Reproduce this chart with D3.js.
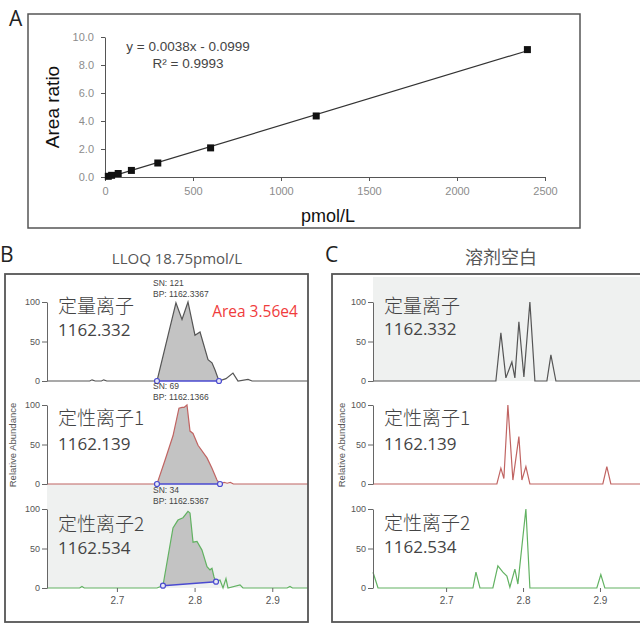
<!DOCTYPE html>
<html>
<head>
<meta charset="utf-8">
<script src="https://cdn.jsdelivr.net/npm/d3@7"></script>
<style>
  body { margin: 0; background: #fff; }
  svg { display: block; }
</style>
</head>
<body>
<script>
// ---- panel A : calibration curve ----
var calConc  = [18.75, 37.5, 75, 150, 300, 600, 1200, 2400];
var calRatio = [0.05, 0.12, 0.25, 0.47, 1.0, 2.08, 4.36, 9.1];
var fitSlope = 0.0038;
var fitIntercept = -0.0999;
var calXTicks = [0, 500, 1000, 1500, 2000, 2500];
var calYTicks = [0, 2, 4, 6, 8, 10];

// ---- chromatograms ----
var ionNames = ["定量离子", "定性离子1", "定性离子2"];
var ionMz = ["1162.332", "1162.139", "1162.534"];
var bSN = ["SN: 121", "SN: 69", "SN: 34"];
var bBP = ["BP: 1162.3367", "BP: 1162.1366", "BP: 1162.5367"];
var rtTicks = [2.7, 2.8, 2.9];
var abundTicks = [0, 50, 100];

// B (LLOQ 18.75 pmol/L)
var bQuantT = [2.61, 2.665, 2.668, 2.672, 2.68, 2.683, 2.687, 2.7516, 2.776, 2.7838, 2.7915, 2.8005, 2.807, 2.8173, 2.8224, 2.8263, 2.8314, 2.8404, 2.8494, 2.8559, 2.8688, 2.874, 2.946];
var bQuantI = [0, 0, 1.5, 0, 0, 1.5, 0, 0, 99, 78, 100, 58, 62, 27, 23, 14, 0, 3, 10, 0, 2, 0, 0];
var bQual1T = [2.61, 2.7516, 2.7619, 2.7722, 2.7799, 2.7838, 2.7864, 2.7902, 2.7941, 2.798, 2.8044, 2.816, 2.8224, 2.8288, 2.8327, 2.838, 2.842, 2.846, 2.85, 2.946];
var bQual1I = [0, 0, 30, 61, 96, 97, 97, 100, 67, 64, 49, 33, 20, 5, 0, 2, 1, 2, 0, 0];
var bQual2T = [2.61, 2.652, 2.655, 2.658, 2.7516, 2.7593, 2.7722, 2.7786, 2.7851, 2.7915, 2.7941, 2.798, 2.8031, 2.8095, 2.816, 2.8198, 2.8224, 2.825, 2.8276, 2.8327, 2.8366, 2.8404, 2.843, 2.8585, 2.8623, 2.919, 2.9228, 2.926, 2.946];
var bQual2I = [0, 0, 2, 0, 0, 3, 76, 86, 89, 97, 95, 58, 59, 48, 27, 23, 25, 14, 8, 10, 0, 12, 0, 4, 0, 0, 2, 0, 0];
// integration start / end and baseline level
var bPeakStart = [2.7516, 2.7516, 2.7593];
var bPeakEnd   = [2.8314, 2.8327, 2.8276];
var bBaseStart = [0, 0, 3];
var bBaseEnd   = [0, 0, 8];

// C (solvent blank)
var cQuantT = [2.605, 2.7647, 2.7712, 2.7777, 2.7855, 2.7894, 2.7946, 2.8011, 2.8089, 2.8154, 2.831, 2.8362, 2.8427, 2.978];
var cQuantI = [0, 0, 61, 4, 24, 4, 75, 5, 100, 0, 0, 33, 0, 0];
var cQual1T = [2.605, 2.766, 2.7712, 2.7751, 2.7803, 2.7868, 2.7946, 2.7985, 2.8037, 2.8089, 2.9037, 2.9089, 2.9141, 2.978];
var cQual1I = [0, 0, 20, 7, 100, 5, 60, 5, 22, 0, 0, 22, 0, 0];
var cQual2T = [2.605, 2.6115, 2.7349, 2.7388, 2.744, 2.7608, 2.7673, 2.7738, 2.779, 2.7829, 2.7894, 2.7933, 2.8037, 2.8089, 2.8959, 2.9011, 2.9063, 2.978];
var cQual2I = [20, 0, 0, 20, 0, 0, 28, 20, 15, 1, 24, 5, 100, 0, 0, 17, 0, 0];

var traceColors = ["#555555", "#c06462", "#62b262"];
var rowBase = [381, 484, 588];
var rowTop = [302, 405, 509];

var svg = d3.select("body").append("svg")
    .attr("width", 640)
    .attr("height", 626)
    .style("font-family", "'Liberation Sans', Arial, sans-serif");

// ================= A =================
var ax = d3.scaleLinear().domain([0, 2500]).range([105, 545]);
var ay = d3.scaleLinear().domain([0, 10]).range([177, 37]);

svg.append("rect")
    .attr("x", 28).attr("y", 14)
    .attr("width", 552).attr("height", 214)
    .attr("fill", "none").attr("stroke", "#555").attr("stroke-width", 1.5);

svg.append("text").attr("x", 9).attr("y", 26)
    .style("font-family", "'Open Sans', sans-serif").style("font-size", "21px")
    .attr("fill", "#222").text("A");

var gAx = svg.append("g").attr("transform", "translate(0,177)")
    .call(d3.axisBottom(ax).tickValues(calXTicks).tickFormat(d3.format("d")).tickSize(4).tickPadding(6).tickSizeOuter(0));
var gAy = svg.append("g").attr("transform", "translate(105,0)")
    .call(d3.axisLeft(ay).tickValues(calYTicks).tickFormat(d3.format(".1f")).tickSize(4).tickPadding(7).tickSizeOuter(0));
[gAx, gAy].forEach(function(g)
{
    g.selectAll("path, line").attr("stroke", "#555");
    g.selectAll("text").attr("fill", "#8c8c8c")
     .style("font-size", "11px").style("font-family", "'Liberation Sans', Arial, sans-serif");
});

var fitX = [calConc[0], calConc[calConc.length - 1]];
svg.append("line")
    .attr("x1", ax(fitX[0])).attr("y1", ay(fitSlope * fitX[0] + fitIntercept))
    .attr("x2", ax(fitX[1])).attr("y2", ay(fitSlope * fitX[1] + fitIntercept))
    .attr("stroke", "#333").attr("stroke-width", 1.2);

svg.selectAll(".calpt")
    .data(calConc)
    .enter().append("rect")
    .attr("class", "calpt")
    .attr("x", function(d) { return ax(d) - 3.5; })
    .attr("y", function(d, i) { return ay(calRatio[i]) - 3.5; })
    .attr("width", 7).attr("height", 7)
    .attr("fill", "#111");

svg.append("text").attr("x", 188).attr("y", 51).attr("text-anchor", "middle")
    .style("font-size", "13.5px").attr("fill", "#444")
    .text("y = " + fitSlope + "x - " + Math.abs(fitIntercept));
svg.append("text").attr("x", 188).attr("y", 68).attr("text-anchor", "middle")
    .style("font-size", "13.5px").attr("fill", "#444")
    .text("R² = 0.9993");

svg.append("text")
    .attr("transform", "translate(59,107) rotate(-90)")
    .attr("text-anchor", "middle")
    .style("font-size", "19px").attr("fill", "#111")
    .text("Area ratio");
svg.append("text").attr("x", 328).attr("y", 222).attr("text-anchor", "middle")
    .style("font-size", "18px").attr("fill", "#111")
    .text("pmol/L");

// ================= B / C =================
function drawPanel(opt)
{
    var g = svg.append("g");
    var x = d3.scaleLinear().domain(opt.domain).range([opt.axisX, opt.rightX]);

    // highlighted row background
    g.append("rect")
        .attr("x", opt.axisX).attr("y", rowTop[opt.hiRow] - 25)
        .attr("width", opt.frameRight - opt.axisX)
        .attr("height", rowBase[opt.hiRow] - rowTop[opt.hiRow] + 25)
        .attr("fill", "#eff1f0");

    for (var r = 0; r < 3; r++)
    {
        var y = d3.scaleLinear().domain([0, 100]).range([rowBase[r], rowTop[r]]);
        var times = opt.times[r], vals = opt.vals[r];
        var pts = times.map(function(t, i) { return [t, vals[i]]; });

        if (opt.peaks)
        {
            var s = opt.peaks.start[r], e = opt.peaks.end[r];
            var b0 = opt.peaks.base0[r], b1 = opt.peaks.base1[r];
            var inPeak = pts.filter(function(p) { return p[0] >= s - 1e-6 && p[0] <= e + 1e-6; });
            var baseAt = function(t) { return b0 + (b1 - b0) * (t - s) / (e - s); };
            g.append("path")
                .datum(inPeak)
                .attr("d", d3.area()
                    .x(function(p) { return x(p[0]); })
                    .y0(function(p) { return y(baseAt(p[0])); })
                    .y1(function(p) { return y(p[1]); }))
                .attr("fill", "#c3c3c3");
        }

        g.append("path")
            .datum(pts)
            .attr("d", d3.line().x(function(p) { return x(p[0]); }).y(function(p) { return y(p[1]); }))
            .attr("fill", "none")
            .attr("stroke", traceColors[r])
            .attr("stroke-width", 1.2);

        if (opt.peaks)
        {
            var pk = opt.peaks;
            g.append("line")
                .attr("x1", x(pk.start[r])).attr("y1", y(pk.base0[r]))
                .attr("x2", x(pk.end[r])).attr("y2", y(pk.base1[r]))
                .attr("stroke", "#4a4ad0").attr("stroke-width", 1.5);
            g.selectAll(".ep" + r)
                .data([[pk.start[r], pk.base0[r]], [pk.end[r], pk.base1[r]]])
                .enter().append("circle")
                .attr("cx", function(d) { return x(d[0]); })
                .attr("cy", function(d) { return y(d[1]); })
                .attr("r", 2.5)
                .attr("fill", "#e8e8f4").attr("stroke", "#4a4ad0").attr("stroke-width", 1.2);

            g.append("text").attr("x", opt.snX).attr("y", rowTop[r] - 16)
                .style("font-size", "8.5px").attr("fill", "#444").text(opt.sn[r]);
            g.append("text").attr("x", opt.snX).attr("y", rowTop[r] - 5)
                .style("font-size", "8.5px").attr("fill", "#444").text(opt.bp[r]);
        }

        // y axis
        var ga = g.append("g").attr("transform", "translate(" + opt.axisX + ",0)");
        ga.call(d3.axisLeft(y).tickValues(d3.range(0, 101, 10)).tickSize(3).tickFormat("").tickSizeOuter(0));
        ga.call(d3.axisLeft(y).tickValues(abundTicks).tickSize(5).tickPadding(2).tickSizeOuter(0));
        ga.selectAll("path, line").attr("stroke", "#666");
        ga.selectAll("text").attr("fill", "#555")
          .style("font-size", "9px").style("font-family", "'Liberation Sans', Arial, sans-serif");

        g.append("text").attr("x", opt.axisX + 11).attr("y", opt.nameY[r] + 7)
            .style("font-family", "'Noto Sans CJK SC', sans-serif").style("font-size", "19px")
            .style("font-weight", 300).attr("fill", "#444").text(ionNames[r]);
        g.append("text").attr("x", opt.axisX + 11).attr("y", opt.mzY[r] + 6)
            .style("font-family", "'Open Sans', sans-serif").style("font-size", "17px")
            .attr("fill", "#444").text(ionMz[r]);

        if (r == 2)
        {
            var gx = g.append("g").attr("transform", "translate(0," + rowBase[r] + ")");
            gx.call(d3.axisBottom(x).tickValues(d3.range(2.61, opt.domain[1], 0.01)).tickSize(2).tickFormat(""));
            gx.call(d3.axisBottom(x).tickValues(rtTicks).tickSize(4).tickPadding(5).tickFormat(d3.format(".1f")));
            gx.select(".domain").remove();
            gx.selectAll("line").attr("stroke", "#666");
            gx.selectAll("text").attr("fill", "#555")
              .style("font-size", "10px").style("font-family", "'Liberation Sans', Arial, sans-serif");
        }
    }

    svg.append("text")
        .attr("transform", "translate(" + opt.relX + ",445) rotate(-90)")
        .attr("text-anchor", "middle")
        .style("font-size", "9.5px").attr("fill", "#555")
        .text("Relative Abundance");

    svg.append("rect")
        .attr("x", opt.frameLeft).attr("y", 274)
        .attr("width", opt.frameRight - opt.frameLeft).attr("height", 348)
        .attr("fill", "none").attr("stroke", "#555").attr("stroke-width", 1.8);

    svg.append("text").attr("x", opt.letterX).attr("y", 262)
        .style("font-family", "'Open Sans', sans-serif").style("font-size", "21px")
        .attr("fill", "#222").text(opt.letter);
    svg.append("text").attr("x", opt.titleX).attr("y", 264).attr("text-anchor", "middle")
        .style("font-family", opt.titleFont).style("font-size", opt.titleSize)
        .attr("fill", "#555").text(opt.title);
    return x;
}

drawPanel({
    domain: [2.61, 2.946], axisX: 47, rightX: 308, frameLeft: 5, frameRight: 308,
    times: [bQuantT, bQual1T, bQual2T], vals: [bQuantI, bQual1I, bQual2I],
    peaks: { start: bPeakStart, end: bPeakEnd, base0: bBaseStart, base1: bBaseEnd },
    sn: bSN, bp: bBP, snX: 153, hiRow: 2,
    nameY: [306, 418, 524], mzY: [330, 444, 548],
    relX: 16, letter: "B", letterX: 0,
    title: "LLOQ 18.75pmol/L", titleX: 177, titleFont: "'Open Sans', sans-serif", titleSize: "15px"
});

svg.append("text").attr("x", 255).attr("y", 317).attr("text-anchor", "middle")
    .style("font-family", "'Open Sans', sans-serif").style("font-size", "15.5px")
    .attr("fill", "#f03c3c").text("Area 3.56e4");

drawPanel({
    domain: [2.605, 2.978], axisX: 373, rightX: 660, frameLeft: 332, frameRight: 680,
    times: [cQuantT, cQual1T, cQual2T], vals: [cQuantI, cQual1I, cQual2I],
    peaks: null, hiRow: 0,
    nameY: [306, 418, 523], mzY: [329, 444, 547],
    relX: 345, letter: "C", letterX: 325,
    title: "溶剂空白", titleX: 501, titleFont: "'Noto Sans CJK SC', sans-serif", titleSize: "18px"
});
</script>
</body>
</html>
